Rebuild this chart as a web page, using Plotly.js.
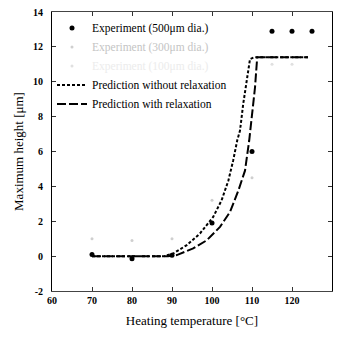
<!DOCTYPE html>
<html>
<head>
<meta charset="utf-8">
<script src="https://cdn.plot.ly/plotly-3.0.1.min.js"></script>
<style>html,body{margin:0;padding:0;background:#fff}#chart{width:337px;height:340px}</style>
</head>
<body>
<div id="chart"></div>
<script>
// Experiment (500 um dia.)
const expX = [70, 80, 90, 100, 110, 115, 120, 125];
const expY = [0.1, -0.15, 0.05, 1.9, 6.0, 12.9, 12.9, 12.9];
// faint second experiment series
const exp2X = [70, 80, 90, 100, 110];
const exp2Y = [1.0, 0.9, 1.0, 3.2, 4.5];
// faint third experiment series
const exp3X = [115, 120];
const exp3Y = [11.0, 11.0];
// Prediction without relaxation
const noRelaxX = [70, 88, 90.3, 93.7, 97, 100.3, 102.4, 104.1, 105.3, 106.3, 107, 107.8, 109.5, 110.5, 124];
const noRelaxY = [0, 0, 0.15, 0.63, 1.3, 2.25, 3.2, 4.34, 5.49, 6.63, 7.2, 8.72, 11.3, 11.4, 11.4];
// Prediction with relaxation
const relaxX = [70, 89, 91.2, 95.3, 98.7, 102, 104.5, 106.6, 108.25, 109.3, 110.75, 111.3, 124];
const relaxY = [0, 0, 0.06, 0.44, 0.91, 1.68, 2.53, 3.77, 4.9, 6.63, 9.67, 11.4, 11.4];

const xTicks = [60, 70, 80, 90, 100, 110, 120, 130];
const yTicks = [-2, 0, 2, 4, 6, 8, 10, 12, 14];

const serif = 'Liberation Serif, Times New Roman, serif';

const traces = [
  {x: expX, y: expY, type: 'scatter', mode: 'markers', name: 'Experiment (500μm dia.)',
   marker: {color: '#000', size: 5, symbol: 'circle'}},
  {x: exp2X, y: exp2Y, type: 'scatter', mode: 'markers',
   name: '<span style="color:#c4c4c4">Experiment (300μm dia.)</span>',
   marker: {color: '#cfcfcf', size: 3, symbol: 'circle'}},
  {x: exp3X, y: exp3Y, type: 'scatter', mode: 'markers',
   name: '<span style="color:#ececec">Experiment (100μm dia.)</span>',
   marker: {color: '#e0e0e0', size: 3, symbol: 'circle'}},
  {x: noRelaxX, y: noRelaxY, type: 'scatter', mode: 'lines', name: 'Prediction without relaxation',
   line: {color: '#000', width: 2, dash: '3px,2px'}},
  {x: relaxX, y: relaxY, type: 'scatter', mode: 'lines', name: 'Prediction with relaxation',
   line: {color: '#000', width: 2, dash: '9px,3px'}}
];

const layout = {
  width: 337, height: 340,
  margin: {l: 52, r: 5, t: 12, b: 49},
  paper_bgcolor: '#fff', plot_bgcolor: '#fff',
  showlegend: true,
  legend: {x: 0.0, y: 0.995, xanchor: 'left', yanchor: 'top', bgcolor: 'rgba(0,0,0,0)',
           font: {family: serif, size: 11.5, color: '#000'}, tracegroupgap: 0},
  xaxis: {
    range: [60, 130], tickvals: xTicks, ticktext: xTicks.map(String),
    ticks: 'inside', ticklen: 4, tickcolor: '#333', mirror: 'ticks',
    showline: true, linecolor: '#444', linewidth: 1, showgrid: false, zeroline: false,
    tickfont: {family: serif, size: 10, weight: 'bold', color: '#000'},
    title: {text: 'Heating temperature [°C]', font: {family: serif, size: 13, color: '#000'}, standoff: 10}
  },
  yaxis: {
    range: [-2, 14], tickvals: yTicks, ticktext: yTicks.map(String),
    ticks: 'inside', ticklen: 4, tickcolor: '#333', mirror: 'ticks',
    showline: true, linecolor: '#000', linewidth: 1, showgrid: false, zeroline: false,
    ticklabelstandoff: 6,
    tickfont: {family: serif, size: 10, weight: 'bold', color: '#000'},
    title: {text: 'Maximum height [μm]', font: {family: serif, size: 13, color: '#000'}, standoff: 6}
  }
};

Plotly.newPlot('chart', traces, layout, {displayModeBar: false, staticPlot: true});
</script>
</body>
</html>
